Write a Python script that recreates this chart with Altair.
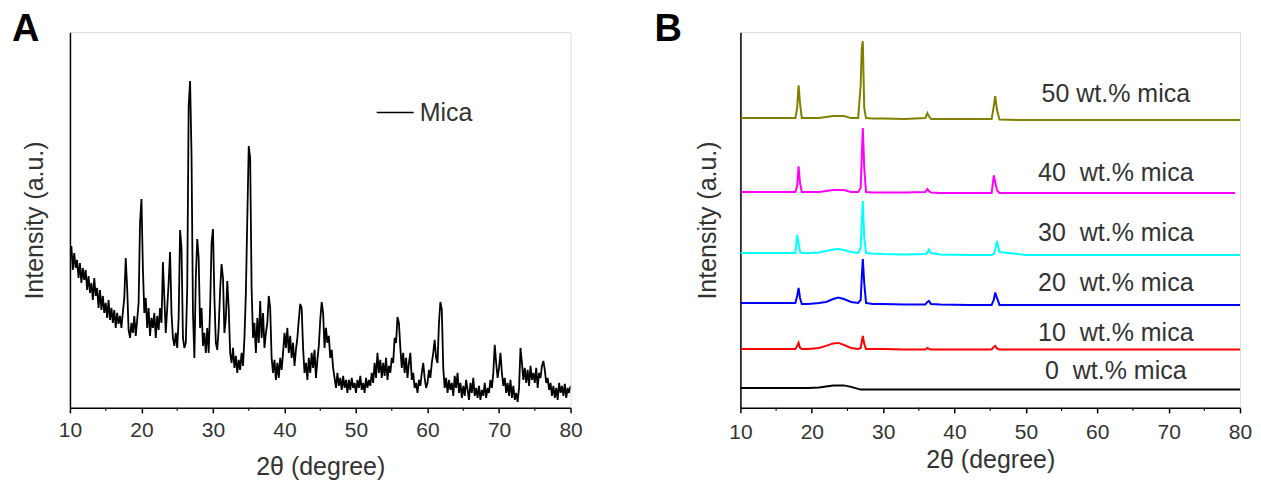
import altair as alt
import pandas as pd

FONT = "Liberation Sans"

# ---------------- Panel A data (2θ grid 10..80 step 0.2) ----------------
theta_a = [round(10 + 0.2 * i, 1) for i in range(351)]
intensity_a = [
    150, 162, 138, 155, 140,   # 10
    148, 130, 145, 125, 140,   # 11
    128, 138, 118, 132, 115,   # 12
    125, 108, 130, 112, 120,   # 13
    100, 118, 98, 112, 95,     # 14
    105, 90, 108, 88, 100,     # 15
    85, 98, 80, 95, 84,        # 16
    92, 80, 96, 110, 150,      # 17
    120, 78, 70, 85, 75,       # 18
    92, 72, 88, 105, 185,      # 19
    209, 140, 95, 110, 80,     # 20
    100, 72, 90, 80, 95,       # 21
    70, 92, 78, 100, 85,       # 22
    146, 110, 75, 100, 125,    # 23
    156, 95, 70, 62, 75,       # 24
    60, 90, 178, 160, 70,      # 25
    60, 65, 120, 302, 327,     # 26
    253, 95, 50, 130, 169,     # 27
    150, 80, 100, 62, 75,      # 28
    55, 80, 55, 100, 165,      # 29
    179, 110, 65, 58, 80,      # 30
    118, 144, 130, 75, 90,     # 31
    127, 100, 55, 45, 60,      # 32
    40, 52, 35, 48, 38,        # 33
    55, 42, 70, 115, 190,      # 34
    262, 250, 120, 70, 85,     # 35
    55, 90, 65, 107, 70,       # 36
    95, 60, 75, 85, 112,       # 37
    100, 50, 35, 48, 28,       # 38
    45, 30, 50, 38, 55,        # 39
    75, 60, 80, 55, 72,        # 40
    50, 65, 42, 58, 70,        # 41
    88, 104, 100, 60, 35,      # 42
    45, 28, 50, 35, 55,        # 43
    40, 58, 30, 48, 62,        # 44
    88, 106, 95, 60, 80,       # 45
    65, 72, 50, 58, 40,        # 46
    30, 20, 35, 22, 30,        # 47
    18, 32, 20, 28, 15,        # 48
    28, 18, 30, 20, 25,        # 49
    15, 28, 20, 32, 18,        # 50
    25, 15, 30, 20, 28,        # 51
    22, 35, 25, 45, 30,        # 52
    55, 35, 48, 30, 45,        # 53
    32, 50, 28, 42, 35,        # 54
    50, 45, 70, 65, 91,        # 55
    85, 60, 40, 55, 35,        # 56
    50, 30, 45, 55, 28,        # 57
    35, 20, 25, 15, 28,        # 58
    22, 35, 45, 30, 20,        # 59
    25, 38, 30, 45, 55,        # 60
    68, 50, 45, 85, 106,       # 61
    98, 40, 20, 30, 15,        # 62
    28, 18, 25, 12, 32,        # 63
    20, 35, 15, 25, 10,        # 64
    22, 12, 28, 18, 8,         # 65
    25, 15, 30, 12, 20,        # 66
    10, 22, 8, 18, 12,         # 67
    25, 10, 20, 15, 28,        # 68
    20, 35, 63, 45, 30,        # 69
    40, 55, 35, 22, 30,        # 70
    15, 25, 12, 28, 10,        # 71
    22, 8, 15, 6, 20,          # 72
    60, 45, 28, 40, 25,        # 73
    38, 22, 42, 28, 35,        # 74
    25, 40, 20, 35, 30,        # 75
    42, 47, 38, 25, 30,        # 76
    18, 25, 12, 22, 10,        # 77
    20, 8, 25, 15, 22,         # 78
    12, 24, 10, 20, 15,        # 79
    22,                        # 80
]

# ---------------- Panel B data ----------------
theta_b = [10.0, 12.0, 14.0, 16.0, 17.7, 17.95, 18.15, 18.35, 18.6, 19.5,
           21.0, 22.0, 23.0, 23.7, 24.5, 25.5, 26.5, 26.85, 27.0, 27.15,
           27.35, 27.6, 28.5, 30.0, 33.0, 35.9, 36.2, 36.4, 36.7, 38.0,
           42.0, 45.2, 45.5, 45.7, 45.95, 46.3, 50.0, 55.0, 60.0, 65.0,
           70.0, 75.0, 79.3, 80.0]

mica_0 = [20, 20, 20, 20, 20, 20, 20, 20, 20, 20,
          20.5, 21.5, 22.5, 22.5, 22.5, 21, 19, 18.5, 18.5, 18.5,
          18.5, 18.5, 18.5, 18.5, 18.5, 18.5, 18.5, 18.5, 18.5, 18.5,
          18.5, 18.5, 18.5, 18.5, 18.5, 18.5, 18.5, 18.5, 18.5, 18.5,
          18.5, 18.5, 18.5, 18.5]
mica_10 = [59, 59, 59, 59, 59, 62, 65, 60, 59, 59,
           60, 62, 64.5, 65, 63, 60, 59, 60, 66, 72,
           64, 59, 59, 59, 58.5, 58.5, 60, 59, 58.5, 58.5,
           58.5, 58.5, 61, 62, 59.5, 58.5, 58.5, 58.5, 58.5, 58.5,
           58.5, 58.5, 58.5, 58.5]
mica_20 = [105, 105, 105, 105, 105, 112, 120, 110, 104, 104,
           105, 106, 109, 110.5, 109, 106, 105, 108, 130, 149,
           125, 105, 104, 104, 103.5, 103.5, 106, 107, 104, 103.5,
           103, 103, 108, 115.5, 110, 103, 103, 103, 103, 103,
           103, 103, 103, 103]
mica_30 = [155, 155, 155, 155, 155, 173, 165, 156, 155, 155,
           155.5, 157, 158.5, 159, 158, 156, 155, 160, 185, 207,
           170, 155, 154.5, 154, 153.5, 154, 155, 158.5, 155, 153.5,
           153, 153, 154, 158, 167, 156, 153, 153, 153, 153,
           153, 153, 153, 153]
mica_40 = [216, 216, 216, 216, 216, 222, 241.7, 225, 216, 216,
           216, 217, 218, 218, 218, 216, 216, 220, 250, 280,
           240, 216, 215.5, 215.5, 215.5, 216, 219, 217, 215.5, 215,
           215, 215, 232.7, 226, 218, 215, 215, 215, 215, 215,
           215, 215, 215, None]
mica_50 = [290, 290, 290, 290, 290, 300, 322.7, 305, 290, 290,
           290, 291, 292, 292, 292, 290, 290, 323, 360, 367,
           300, 290, 289.5, 289.5, 289, 290, 295, 292, 289, 289,
           289, 289, 302, 312, 298, 288.5, 288, 288, 288, 288,
           288, 288, 288, 288]

series_b = ["0 wt.%", "10 wt.%", "20 wt.%", "30 wt.%", "40 wt.%", "50 wt.%"]
colors_b = ["#000000", "#ff0000", "#0000ff", "#00ffff", "#ff00ff", "#808000"]
values_b = [mica_0, mica_10, mica_20, mica_30, mica_40, mica_50]

labels_b = ["50 wt.% mica", "40\u00a0 wt.% mica", "30\u00a0 wt.% mica",
            "20\u00a0 wt.% mica", "10\u00a0 wt.% mica", "0\u00a0 wt.% mica"]
label_theta_b = [62.6, 62.6, 62.6, 62.6, 62.6, 62.6]
label_int_b = [314, 235, 175, 125, 75, 37]

major_ticks = [10, 20, 30, 40, 50, 60, 70, 80]
minor_ticks = [15, 25, 35, 45, 55, 65, 75]

# ---------------- build tables ----------------
dfA = pd.DataFrame({"theta": theta_a, "intensity": intensity_a, "series": "Mica"})
rows = []
for s, vals in zip(series_b, values_b):
    for t, v in zip(theta_b, vals):
        rows.append({"theta": t, "intensity": v, "series": s})
dfB = pd.DataFrame(rows)
dfLab = pd.DataFrame({"theta": label_theta_b, "intensity": label_int_b, "label": labels_b})
dfMinor = pd.DataFrame({"theta": minor_ticks})

W_A, W_B, H = 501, 500, 376


def xscale():
    return alt.Scale(domain=[10, 80], nice=False, zero=False)


def yscale():
    return alt.Scale(domain=[0, 376], nice=False, zero=False)


def xaxis(label_pad, title_pad):
    return alt.Axis(values=major_ticks, title="2θ (degree)", format="d",
                    labelFont=FONT, labelFontSize=21, labelColor="#333333",
                    labelPadding=label_pad, titleFont=FONT, titleFontSize=25,
                    titleFontWeight="normal", titleColor="#333333",
                    titlePadding=title_pad, domainColor="#000000", domainWidth=1.5,
                    tickColor="#000000", tickWidth=1.5, tickSize=5, grid=False,
                    labelFlush=False)


def yaxis(title_pad):
    return alt.Axis(title="Intensity (a.u.)", labels=False, ticks=False, grid=False,
                    titleFont=FONT, titleFontSize=25, titleFontWeight="normal",
                    titleColor="#333333", titlePadding=title_pad,
                    domainColor="#000000", domainWidth=1.5)


def minor_layer(df, xax):
    return alt.Chart(df).mark_rule(color="#000000", strokeWidth=1.2).encode(
        x=alt.X("theta:Q", scale=xscale(), axis=xax),
        y=alt.value(H), y2=alt.value(H + 3))


def panel_letter(letter, dx):
    return alt.Chart(pd.DataFrame({"lab": [letter]})).mark_text(
        font=FONT, fontSize=38, fontWeight="bold", color="#000000",
        align="left", baseline="alphabetic").encode(
        text="lab:N", x=alt.value(dx), y=alt.value(9))


# ---------------- Panel A ----------------
xaxA = xaxis(7, 14)
yaxA = yaxis(22)
lineA = alt.Chart(dfA).mark_line(strokeWidth=1.8, clip=True).encode(
    x=alt.X("theta:Q", scale=xscale(), axis=xaxA),
    y=alt.Y("intensity:Q", scale=yscale(), axis=yaxA),
    color=alt.Color("series:N", scale=alt.Scale(domain=["Mica"], range=["#000000"]),
                    legend=alt.Legend(title=None, orient="none", legendX=306, legendY=61,
                                      symbolType="stroke", symbolSize=1369,
                                      symbolStrokeWidth=1.5, labelFont=FONT,
                                      labelFontSize=25, labelColor="#333333",
                                      labelOffset=5, padding=0)),
)
chartA = alt.layer(lineA, minor_layer(dfMinor, xaxA), panel_letter("A", -58)).properties(
    width=W_A, height=H)

# ---------------- Panel B ----------------
xaxB = xaxis(9, 5)
yaxB = yaxis(20)
lineB = alt.Chart(dfB).mark_line(strokeWidth=2, clip=True).encode(
    x=alt.X("theta:Q", scale=xscale(), axis=xaxB),
    y=alt.Y("intensity:Q", scale=yscale(), axis=yaxB),
    color=alt.Color("series:N", scale=alt.Scale(domain=series_b, range=colors_b), legend=None),
    detail="series:N",
)
textB = alt.Chart(dfLab).mark_text(font=FONT, fontSize=25, color="#333333",
                                   align="center", baseline="middle").encode(
    x=alt.X("theta:Q", scale=xscale(), axis=xaxB),
    y=alt.Y("intensity:Q", scale=yscale(), axis=yaxB),
    text="label:N")
chartB = alt.layer(lineB, textB, minor_layer(dfMinor, xaxB), panel_letter("B", -86)).properties(
    width=W_B, height=H)

chart = alt.hconcat(chartA, chartB, spacing=170, bounds="flush").resolve_scale(
    color="independent"
).properties(
    padding={"left": 3, "top": 2, "right": 0, "bottom": 0}
).configure_view(stroke="#444444", strokeWidth=1.5).configure(background="white")

chart.save("out.html", embed_options={"renderer": "svg", "actions": False})
